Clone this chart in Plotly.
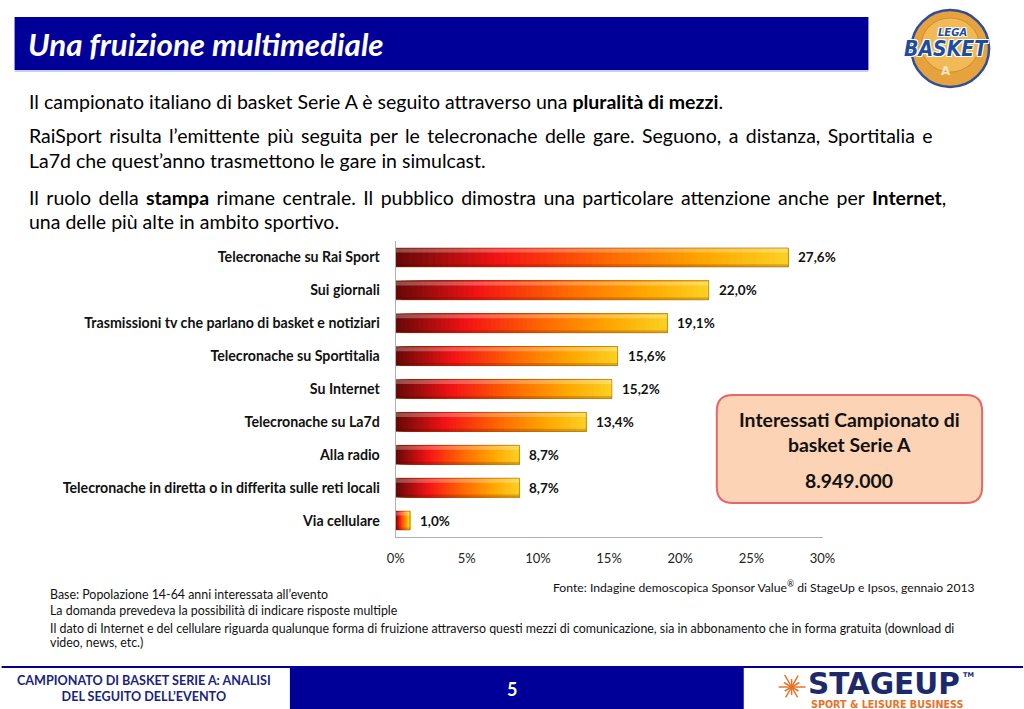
import math
import plotly.graph_objects as go
from plotly.colors import sample_colorscale

W, H = 1024, 709

categories = [
    "Telecronache su Rai Sport",
    "Sui giornali",
    "Trasmissioni tv che parlano di basket e notiziari",
    "Telecronache su Sportitalia",
    "Su Internet",
    "Telecronache su La7d",
    "Alla radio",
    "Telecronache in diretta o in differita sulle reti locali",
    "Via cellulare",
]
values = [27.6, 22.0, 19.1, 15.6, 15.2, 13.4, 8.7, 8.7, 1.0]
value_labels = ["27,6%", "22,0%", "19,1%", "15,6%", "15,2%", "13,4%", "8,7%", "8,7%", "1,0%"]
tick_vals = [0, 5, 10, 15, 20, 25, 30]
tick_text = ["0%", "5%", "10%", "15%", "20%", "25%", "30%"]

# horizontal correction observed in the captured picture (x_shown ~ 7.4 + 0.981 * x_drawn)
SX, OX = 0.981, 7.4


def px(x):
    return ((x - OX) / SX) / W


def py(y):
    return 1 - y / H


FONT = "Lato"
NAVY = "#000099"

fig = go.Figure()

# gradient bars: N overlapping segments, each from its base to the bar end
N = 60
cscale = [[0.0, "#6A0808"], [0.26, "#F41414"], [0.55, "#FF6A00"], [0.8, "#FFA800"], [1.0, "#FCCF22"]]
BW = 0.58
for i in range(N):
    col = sample_colorscale(cscale, [i / (N - 1)])[0]
    fig.add_trace(go.Bar(
        y=categories,
        x=[v * (1 - i / N) for v in values],
        base=[v * i / N for v in values],
        orientation="h",
        width=BW,
        marker=dict(color=col, line=dict(width=0)),
        hoverinfo="skip",
        showlegend=False,
    ))

# highlight on top, shadow at bottom, thin outline
fig.add_trace(go.Bar(y=categories, x=values, orientation="h", width=0.12, offset=-0.27,
                     marker=dict(color="rgba(255,255,255,0.28)", line=dict(width=0)),
                     hoverinfo="skip", showlegend=False))
fig.add_trace(go.Bar(y=categories, x=values, orientation="h", width=0.08, offset=0.21,
                     marker=dict(color="rgba(60,0,0,0.18)", line=dict(width=0)),
                     hoverinfo="skip", showlegend=False))
fig.add_trace(go.Bar(y=categories, x=values, orientation="h", width=BW,
                     marker=dict(color="rgba(0,0,0,0)", line=dict(width=1, color="rgba(140,70,0,0.45)")),
                     hoverinfo="skip", showlegend=False))

fig.update_layout(
    autosize=True,
    margin=dict(l=0, r=0, t=0, b=0),
    paper_bgcolor="white", plot_bgcolor="white",
    barmode="overlay",
    xaxis=dict(domain=[px(395), px(823)], range=[0, 30], tickvals=tick_vals, ticktext=tick_text,
               showgrid=False, zeroline=False, showline=True, linecolor="#B0B0B0", linewidth=1,
               ticks="", ticklabelstandoff=9,
               tickfont=dict(family=FONT, size=13, color="#222")),
    yaxis=dict(domain=[py(537), py(241)], type="category", autorange="reversed",
               showgrid=False, zeroline=False, showline=True, linecolor="#B0B0B0", linewidth=1,
               ticks="", ticklabelstandoff=12,
               tickfont=dict(family=FONT, size=14.2, color="#111", weight="bold")),
    font=dict(family=FONT),
)

shapes = []
annos = []

# value labels, anchored on the bar ends
for c, v, lab in zip(categories, values, value_labels):
    annos.append(dict(text=lab, x=v, y=c, xref="x", yref="y", xanchor="left", yanchor="middle",
                      xshift=8, showarrow=False,
                      font=dict(family=FONT, size=13.5, color="#111", weight="bold")))

# title bar
shapes.append(dict(type="rect", xref="paper", yref="paper", x0=px(13), x1=px(869), y0=py(70), y1=py(17),
                   fillcolor=NAVY, line=dict(width=0), layer="below"))
shapes.append(dict(type="line", xref="paper", yref="paper", x0=px(13), x1=px(869), y0=py(71), y1=py(71),
                   line=dict(color="#B8C0DC", width=1.5)))
annos.append(dict(text="Una fruizione multimediale", x=px(24), y=py(44), xref="paper", yref="paper",
                  xanchor="left", yanchor="middle", showarrow=False,
                  font=dict(family=FONT, size=31.3, color="white", weight="bold", style="italic")))

# LEGA BASKET logo
shapes.append(dict(type="circle", xref="paper", yref="paper", x0=px(912), x1=px(990), y0=py(87), y1=py(10),
                   fillcolor="#E6A23C", line=dict(color="#2E4E9E", width=2.5)))
shapes.append(dict(type="circle", xref="paper", yref="paper", x0=px(922), x1=px(980), y0=py(72), y1=py(18),
                   fillcolor="rgba(255,215,120,0.45)", line=dict(color="rgba(180,110,30,0.5)", width=1)))
OUT = "1px 1px 0 white, -1px -1px 0 white, 1px -1px 0 white, -1px 1px 0 white"
annos.append(dict(text="LEGA", x=px(953), y=py(32), xref="paper", yref="paper", xanchor="center", yanchor="middle",
                  showarrow=False,
                  font=dict(family="DejaVu Sans", size=10, color="#1E4DA0", weight="bold", style="italic", shadow=OUT)))
annos.append(dict(text="BASKET", x=px(947), y=py(49), xref="paper", yref="paper", xanchor="center", yanchor="middle",
                  showarrow=False,
                  font=dict(family="DejaVu Sans Condensed", size=21, color="#1E4DA0", weight="bold", style="italic",
                            shadow=OUT)))
annos.append(dict(text="A", x=px(947), y=py(71), xref="paper", yref="paper", xanchor="center", yanchor="middle",
                  showarrow=False, font=dict(family="DejaVu Sans", size=12, color="#F4E6C0", weight="bold")))

# paragraphs (justified lines get a thin space added to most gaps)
TS = "\u2009"
para = [
    ("Il campionato italiano di basket Serie A è seguito attraverso una <b>pluralità di mezzi</b>.", 101, 0),
    ("RaiSport risulta l’emittente più seguita per le telecronache delle gare. Seguono, a distanza, Sportitalia e", 135, 99),
    ("La7d che quest’anno trasmettono le gare in simulcast.", 160, 0),
    ("Il ruolo della <b>stampa</b> rimane centrale. Il pubblico dimostra una particolare attenzione anche per <b>Internet</b>,", 197, 14),
    ("una delle più alte in ambito sportivo.", 222, 0),
]
for t, yy, nthin in para:
    if nthin:
        parts = t.split(" ")
        out = parts[0]
        for k, w in enumerate(parts[1:]):
            out += (" " + TS if k < nthin else " ") + w
        t = out
    annos.append(dict(text=t, x=px(25), y=py(yy), xref="paper", yref="paper", xanchor="left", yanchor="middle",
                      showarrow=False, font=dict(family=FONT, size=19.5, color="#000")))

# info box (rounded)
bx0, bx1, by0, by1, r = 717, 983, 395, 503, 16


def P(x, y):
    return f"{px(x):.5f},{py(y):.5f}"


path = (f"M {P(bx0 + r, by0)} L {P(bx1 - r, by0)} Q {P(bx1, by0)} {P(bx1, by0 + r)} "
        f"L {P(bx1, by1 - r)} Q {P(bx1, by1)} {P(bx1 - r, by1)} L {P(bx0 + r, by1)} "
        f"Q {P(bx0, by1)} {P(bx0, by1 - r)} L {P(bx0, by0 + r)} Q {P(bx0, by0)} {P(bx0 + r, by0)} Z")
shapes.append(dict(type="path", xref="paper", yref="paper", path=path, fillcolor="#FCD3B4",
                   line=dict(color="#E8666A", width=2)))
for t, yy in [("Interessati Campionato di", 419), ("basket Serie A", 444), ("8.949.000", 481)]:
    annos.append(dict(text=t, x=px(850), y=py(yy), xref="paper", yref="paper", xanchor="center", yanchor="middle",
                      showarrow=False, font=dict(family=FONT, size=19.4, color="#111", weight="bold")))

# notes
annos.append(dict(text="Fonte: Indagine demoscopica Sponsor Value<sup>®</sup> di StageUp e Ipsos, gennaio 2013",
                  x=px(978), y=py(587), xref="paper", yref="paper", xanchor="right", yanchor="middle",
                  showarrow=False, font=dict(family=FONT, size=12.2, color="#111")))
notes = [
    ("Base: Popolazione 14-64 anni interessata all’evento", 594),
    ("La domanda prevedeva la possibilità di indicare risposte multiple", 610),
    ("Il dato di Internet e del cellulare riguarda qualunque forma di fruizione attraverso questi mezzi di comunicazione, sia in abbonamento che in forma gratuita (download di", 628),
    ("video, news, etc.)", 642),
]
for t, yy in notes:
    annos.append(dict(text=t, x=px(46), y=py(yy), xref="paper", yref="paper", xanchor="left", yanchor="middle",
                      showarrow=False, font=dict(family=FONT, size=12.4, color="#111")))

# footer
shapes.append(dict(type="line", xref="paper", yref="paper", x0=px(0), x1=px(1024), y0=py(667), y1=py(667),
                   line=dict(color=NAVY, width=2)))
shapes.append(dict(type="rect", xref="paper", yref="paper", x0=px(289), x1=px(744), y0=0, y1=py(667),
                   fillcolor=NAVY, line=dict(width=0)))
annos.append(dict(text="CAMPIONATO DI BASKET SERIE A: ANALISI<br>DEL SEGUITO DELL’EVENTO", x=px(143), y=py(688),
                  xref="paper", yref="paper", xanchor="center", yanchor="middle", showarrow=False, align="center",
                  font=dict(family=FONT, size=12.6, color="#1A237E", weight="bold")))
annos.append(dict(text="5", x=px(512), y=py(689), xref="paper", yref="paper", xanchor="center", yanchor="middle",
                  showarrow=False, font=dict(family=FONT, size=18, color="white", weight="bold")))

# STAGEUP logo: star
cx, cy = 792, 687
for k, ln in enumerate([14, 9, 13, 8, 14, 9, 13, 8, 12, 8, 12, 8]):
    a = math.pi * k / 6
    shapes.append(dict(type="line", xref="paper", yref="paper",
                       x0=px(cx), y0=py(cy), x1=px(cx + ln * math.cos(a)), y1=py(cy - ln * math.sin(a)),
                       line=dict(color="#E8732A", width=1.5)))
annos.append(dict(text="STAGEUP", x=px(806), y=py(684), xref="paper", yref="paper", xanchor="left", yanchor="middle",
                  showarrow=False, font=dict(family="DejaVu Sans", size=29.5, color="#1C2A6A", weight="bold")))
annos.append(dict(text="TM", x=px(962), y=py(675), xref="paper", yref="paper", xanchor="left", yanchor="middle",
                  showarrow=False, font=dict(family="DejaVu Sans", size=6.5, color="#1C2A6A", weight="bold")))
annos.append(dict(text="SPORT &amp; LEISURE BUSINESS", x=px(809), y=py(704), xref="paper", yref="paper",
                  xanchor="left", yanchor="middle", showarrow=False,
                  font=dict(family="DejaVu Sans", size=9.6, color="#E8732A", weight="bold")))

fig.update_layout(shapes=shapes, annotations=annos)
fig.write_html("out.html", config={"displayModeBar": False, "responsive": True},
               default_width="100%", default_height="100%")

# let the figure fill the whole window with no page margins
with open("out.html", encoding="utf-8") as f:
    html = f.read()
css = ("<style>html,body{margin:0;padding:0;overflow:hidden;width:100%;height:100%;}"
       "body>div{width:100%;height:100%;}</style>")
html = html.replace("<head>", "<head>" + css, 1)
with open("out.html", "w", encoding="utf-8") as f:
    f.write(html)
